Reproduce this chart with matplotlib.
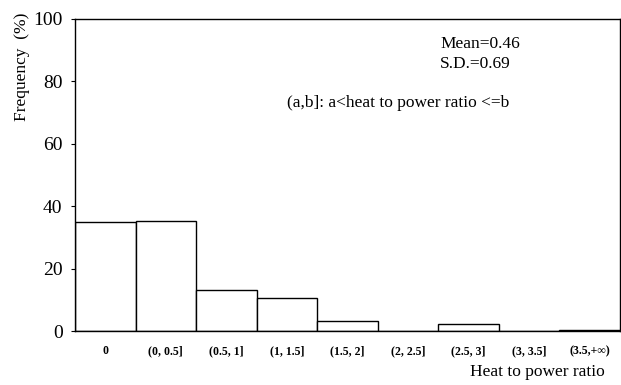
import numpy as np
import matplotlib.pyplot as plt

# Histogram classes and frequencies (%)
categories = ['0', '(0, 0.5]', '(0.5, 1]', '(1, 1.5]', '(1.5, 2]',
              '(2, 2.5]', '(2.5, 3]', '(3, 3.5]', '(3.5,+\u221e)']
frequency = [35.0, 35.3, 13.2, 10.6, 3.2, 0.0, 2.3, 0.0, 0.4]
y_ticks = [0, 20, 40, 60, 80, 100]

plt.rcParams['font.family'] = ['Liberation Serif', 'DejaVu Serif']

fig = plt.figure(figsize=(6.21, 3.85), dpi=100)
ax = fig.add_axes([75 / 621, 1 - 331 / 385, 545 / 621, 312 / 385])

x = np.arange(len(categories))
ax.bar(x, frequency, width=1.0, color='white', edgecolor='black', linewidth=1.0)

ax.set_xlim(-0.5, len(categories) - 0.5)
ax.set_ylim(0, 100)
ax.set_yticks(y_ticks)
ax.set_yticklabels([str(v) for v in y_ticks], fontsize=14)
ax.set_xticks(x)
ax.set_xticklabels(categories, fontsize=8.5, fontweight='bold')
ax.tick_params(axis='x', length=0, pad=10)
ax.tick_params(axis='y', length=3, direction='out', pad=6)
for s in ax.spines.values():
    s.set_linewidth(1.0)

ax.text(5.53, 92, 'Mean=0.46', fontsize=12.5, va='center')
ax.text(5.53, 85.5, 'S.D.=0.69', fontsize=12.5, va='center')
ax.text(3.0, 73, '(a,b]: a<heat to power ratio <=b', fontsize=12.5, va='center')

fig.text(605 / 621, 1 - 372 / 385, 'Heat to power ratio', fontsize=12.5,
         ha='right', va='center')
fig.text(22 / 621, 1 - 67 / 385, 'Frequency  (%)', fontsize=12.5,
         rotation=90, ha='center', va='center')

fig.savefig('out.png', dpi=100)
